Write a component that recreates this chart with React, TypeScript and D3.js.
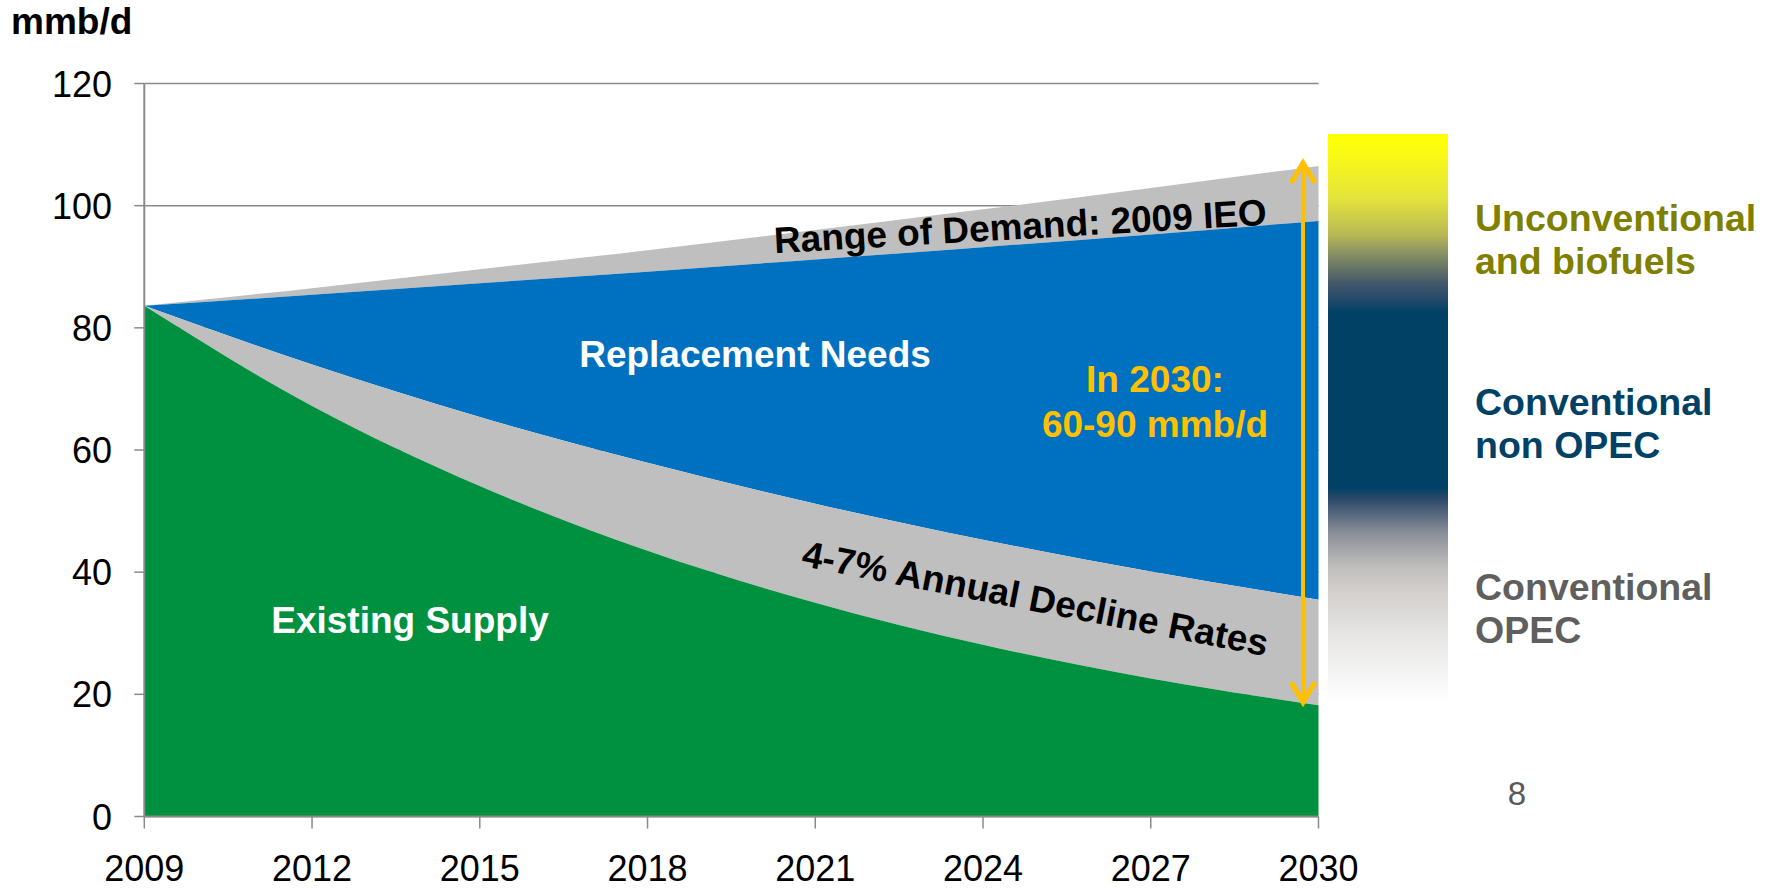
import React from "react";
import * as d3 from "d3";

// ---- data ----
const years = [2009, 2012, 2015, 2018, 2021, 2024, 2027, 2030];
const demandHigh = [83.6, 86.5, 89.6, 92.7, 96.0, 99.4, 102.9, 106.5];
const demandLow = [83.6, 85.4, 87.3, 89.2, 91.2, 93.2, 95.3, 97.5];
const decline4 = [83.6, 74.0, 65.4, 57.9, 51.2, 45.3, 40.1, 35.5];
const decline7 = [83.6, 67.2, 54.1, 43.5, 35.0, 28.1, 22.6, 18.2];
const yTicks = [0, 20, 40, 60, 80, 100, 120];
const xTicks = [2009, 2012, 2015, 2018, 2021, 2024, 2027, 2030];
const legendItems = [
  { lines: ["Unconventional", "and biofuels"], color: "#808000" },
  { lines: ["Conventional", "non OPEC"], color: "#004165" },
  { lines: ["Conventional", "OPEC"], color: "#5F5F5F" },
];
const gradientStops: [number, string][] = [
  [0, "#FFFF00"],
  [0.028, "#FCFC12"],
  [0.116, "#E2E23E"],
  [0.178, "#B8B855"],
  [0.204, "#909862"],
  [0.262, "#45586A"],
  [0.292, "#22496A"],
  [0.313, "#004165"],
  [0.623, "#004165"],
  [0.644, "#2F4A6A"],
  [0.702, "#8A8E98"],
  [0.762, "#BFBEBD"],
  [0.803, "#D2CFCC"],
  [0.879, "#E6E5E4"],
  [1, "#FFFFFF"],
];

const FONT = "'Liberation Sans', Arial, Helvetica, sans-serif";

export default function App() {
  const W = 1768;
  const H = 889;
  const x = d3.scaleLinear().domain([2009, 2030]).range([144.3, 1318.5]);
  const y = d3.scaleLinear().domain([0, 120]).range([816.5, 83.5]);

  const rows = years.map((yr, i) => ({
    yr,
    hi: demandHigh[i],
    lo: demandLow[i],
    d4: decline4[i],
    d7: decline7[i],
  }));
  type R = (typeof rows)[number];
  const mk = (a: (r: R) => number, b: (r: R) => number) =>
    d3
      .area<R>()
      .x((r) => x(r.yr))
      .y0((r) => y(a(r)))
      .y1((r) => y(b(r)))
      .curve(d3.curveMonotoneX)(rows) || "";

  const grayTop = mk((r) => r.lo, (r) => r.hi);
  const blue = mk((r) => r.d4, (r) => r.lo);
  const grayMid = mk((r) => r.d7, (r) => r.d4);
  const green = mk(() => 0, (r) => r.d7);

  const axisColor = "#8A8A8A";
  const arrowX = 1303;
  const arrowTop = y(106.5) - 3;
  const arrowBot = y(18.2) - 3;
  const orange = "#FFC000";

  const barX = 1328;
  const barW = 120;
  const barTop = 134;
  const barBot = 702;

  const legendX = 1475;
  const legendBase = [231, 415, 600];
  const fs = 37;

  return (
    <div style={{ position: "absolute", left: 0, top: 0 }}>
      <svg width={W} height={H} style={{ display: "block", fontFamily: FONT }}>
        <defs>
          <linearGradient id="legendGrad" x1="0" y1="0" x2="0" y2="1">
            {gradientStops.map(([o, c], i) => (
              <stop key={i} offset={o} stopColor={c} />
            ))}
          </linearGradient>
        </defs>
        <rect width={W} height={H} fill="#FFFFFF" />

        {/* gridlines */}
        {yTicks.map((t) => (
          <line
            key={"g" + t}
            x1={x(2009)}
            x2={x(2030)}
            y1={y(t)}
            y2={y(t)}
            stroke={axisColor}
            strokeWidth={1.5}
          />
        ))}

        {/* areas */}
        <path d={grayTop} fill="#BFBFBF" />
        <path d={blue} fill="#0070C0" />
        <path d={grayMid} fill="#BFBFBF" />
        <path d={green} fill="#009140" />

        {/* axes */}
        <line x1={x(2009)} x2={x(2009)} y1={y(120)} y2={y(0)} stroke={axisColor} strokeWidth={2} />
        <line x1={x(2009)} x2={x(2030)} y1={y(0)} y2={y(0)} stroke={axisColor} strokeWidth={2} />
        {yTicks.map((t) => (
          <g key={"y" + t}>
            <line x1={x(2009) - 10} x2={x(2009)} y1={y(t)} y2={y(t)} stroke={axisColor} strokeWidth={1.5} />
            <text x={112} y={y(t) + 13} textAnchor="end" fontSize={36} fill="#000">
              {t}
            </text>
          </g>
        ))}
        {xTicks.map((t) => (
          <g key={"x" + t}>
            <line x1={x(t)} x2={x(t)} y1={y(0)} y2={y(0) + 12} stroke={axisColor} strokeWidth={1.5} />
            <text x={x(t)} y={881} textAnchor="middle" fontSize={36} fill="#000">
              {t}
            </text>
          </g>
        ))}

        <text x={11} y={34} fontSize={37} fontWeight="bold" fill="#000">
          mmb/d
        </text>

        {/* annotations */}
        <text
          x={1021}
          y={239}
          textAnchor="middle"
          fontSize={fs}
          fontWeight="bold"
          fill="#000"
          transform="rotate(-3.3 1021 239)"
        >
          Range of Demand: 2009 IEO
        </text>
        <text x={755} y={367} textAnchor="middle" fontSize={fs} fontWeight="bold" fill="#FFF">
          Replacement Needs
        </text>
        <text x={1155} y={392} textAnchor="middle" fontSize={fs} fontWeight="bold" fill={orange}>
          In 2030:
        </text>
        <text x={1155} y={437} textAnchor="middle" fontSize={fs} fontWeight="bold" fill={orange}>
          60-90 mmb/d
        </text>
        <text
          x={1033}
          y={611}
          textAnchor="middle"
          fontSize={fs}
          fontWeight="bold"
          fill="#000"
          transform="rotate(11 1033 611)"
        >
          4-7% Annual Decline Rates
        </text>
        <text x={410} y={633} textAnchor="middle" fontSize={fs} fontWeight="bold" fill="#FFF">
          Existing Supply
        </text>

        {/* double arrow */}
        <line x1={arrowX} x2={arrowX} y1={arrowTop + 2} y2={arrowBot - 2} stroke={orange} strokeWidth={4} />
        <polyline
          points={`${arrowX - 12},${arrowTop + 20} ${arrowX},${arrowTop} ${arrowX + 12},${arrowTop + 20}`}
          fill="none"
          stroke={orange}
          strokeWidth={5}
        />
        <polyline
          points={`${arrowX - 12},${arrowBot - 20} ${arrowX},${arrowBot} ${arrowX + 12},${arrowBot - 20}`}
          fill="none"
          stroke={orange}
          strokeWidth={5}
        />

        {/* legend gradient bar */}
        <rect x={barX} y={barTop} width={barW} height={barBot - barTop} fill="url(#legendGrad)" />
        {legendItems.map((it, i) =>
          it.lines.map((ln, j) => (
            <text
              key={i + "-" + j}
              x={legendX}
              y={legendBase[i] + j * 43}
              fontSize={37.5}
              fontWeight="bold"
              fill={it.color}
            >
              {ln}
            </text>
          ))
        )}

        <text x={1517} y={805} textAnchor="middle" fontSize={33} fill="#595959">
          8
        </text>
      </svg>
    </div>
  );
}
